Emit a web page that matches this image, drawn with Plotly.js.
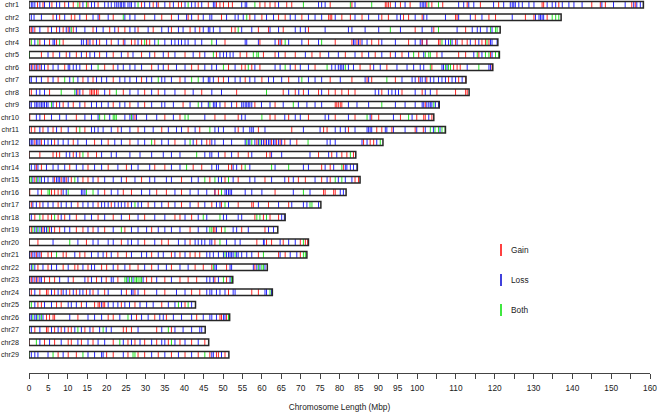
<!DOCTYPE html>
<html><head><meta charset="utf-8">
<script src="https://cdn.plot.ly/plotly-3.0.1.min.js"></script>
<style>html,body{margin:0;padding:0;background:#fff}#chart{width:660px;height:414px}</style>
</head><body><div id="chart"></div>
<script>
const chromNames = ['chr1','chr2','chr3','chr4','chr5','chr6','chr7','chr8','chr9','chr10','chr11','chr12','chr13','chr14','chr15','chr16','chr17','chr18','chr19','chr20','chr21','chr22','chr23','chr24','chr25','chr26','chr27','chr28','chr29'];
const chromLengths = [158.3,137.1,121.4,120.8,121.2,119.5,112.6,113.4,105.7,104.3,107.3,91.2,84.2,84.6,85.3,81.7,75.2,66.0,64.1,72.0,71.6,61.4,52.5,62.7,42.9,51.7,45.4,46.3,51.5];
const xTickVals = [0,5,10,15,20,25,30,35,40,45,50,55,60,65,70,75,80,85,90,95,100,105,110,115,120,125,130,135,140,145,150,155,160];
const xTickText = ['0','5','10','15','20','25','30','35','40','45','50','55','60','65','70','75','80','85','90','95','100','','110','','120','','130','','140','','150','','160'];
const legendLabels = ['Gain','Loss','Both'];

// CNV positions (Mbp), one list per chromosome
const gainPos = [
/*1*/[2.2,3.6,5.9,9.2,11.4,13.1,15.2,17.8,29.0,32.0,33.3,36.3,38.5,39.3,43.6,46.2,48.3,49.2,50.1,51.4,52.4,59.5,60.8,62.1,63.4,66.4,67.7,77.6,83.2,91.8,92.2,92.6,93.1,95.7,98.2,102.5,103.8,106.6,112.9,116.3,121.0,132.2,132.6,136.5,145.0,147.2,148.5,155.3,156.2],
/*2*/[6.2,7.9,10.9,11.8,14.8,18.2,21.7,29.8,34.2,36.7,41.0,43.6,49.6,56.9,60.0,64.3,66.0,70.3,77.2,77.6,78.0,80.6,82.8,85.8,90.9,92.6,96.5,97.8,101.3,109.9,110.3,115.0,118.5,120.2,127.9,130.1,133.5],
/*3*/[0.2,0.6,1.5,4.9,7.1,8.8,10.1,11.4,16.5,20.8,23.0,24.7,28.1,32.0,36.7,41.5,44.0,52.2,53.1,59.1,61.7,65.5,72.0,99.5,104.3,112.5],
/*4*/[0.2,2.8,5.3,7.1,8.8,15.2,16.5,18.2,21.2,24.3,26.4,27.3,29.0,30.3,31.1,50.5,59.5,64.3,65.1,72.0,78.9,83.2,84.5,85.3,88.3,90.1,97.8,101.3,102.5,105.5,105.9,109.9,111.6,112.9,115.0,116.7,117.6,118.5],
/*5*/[3.2,6.2,9.6,12.2,14.8,18.2,21.7,25.5,29.0,32.4,35.9,40.2,44.0,48.3,54.4,56.1,60.4,63.4,66.0,68.6,72.9,75.0,81.5,85.8,89.2,93.1,96.1,100.4,105.1,110.7,112.5,115.9,118.9],
/*6*/[0.0,0.2,1.0,1.9,2.8,4.9,9.2,14.8,19.5,21.7,31.6,35.9,41.9,43.6,51.4,54.8,55.7,57.4,59.5,68.6,73.7,85.3,87.9,92.2,103.8,109.4,110.3,111.1,119.3],
/*7*/[4.9,7.5,13.9,16.5,21.7,29.0,38.9,48.8,50.1,55.7,60.0,66.9,77.6,83.2,87.1,88.3,94.4,100.4,102.5,108.1,110.7,112.5],
/*8*/[0.0,0.6,5.3,12.6,13.9,15.7,16.1,16.5,16.9,17.4,17.8,20.8,24.3,29.8,33.3,40.2,44.5,53.5,65.5,68.6,70.7,74.6,77.2,78.9,80.6,82.3,84.0,90.9,96.1,101.3,105.1,109.9,112.5,112.9],
/*9*/[7.1,8.8,11.4,14.4,21.7,26.0,29.8,39.7,50.5,53.5,58.2,63.4,78.9,79.3,79.7,80.2,80.6,102.1],
/*10*/[0.2,4.0,12.2,27.3,35.0,38.9,47.9,50.5,53.9,62.1,63.4,66.9,72.0,78.9,84.0,88.3,90.1,95.7,99.9,101.7,102.1,103.8],
/*11*/[0.6,1.5,3.6,6.2,8.3,12.2,14.4,22.9,28.1,34.2,41.0,44.0,53.9,59.1,67.7,75.9,76.8,82.3,89.6,90.9,93.5,99.5,101.6],
/*12*/[1.5,3.2,6.6,11.4,16.9,20.4,26.0,32.4,37.6,43.2,45.8,46.6,58.7,60.8,62.5,63.8,64.7,65.9,69.0,86.2,87.9,88.8],
/*13*/[0.0,2.8,6.2,7.1,7.9,11.4,13.1,15.2,17.4,50.5,53.9,56.5,61.2,62.1,74.6,78.0,80.6,81.9,83.6],
/*14*/[1.9,3.2,10.5,15.2,20.4,25.1,32.4,35.0,42.3,44.5,51.4,52.2,54.8,75.4,77.6,81.0],
/*15*/[1.5,6.6,8.3,9.6,10.9,13.9,15.2,17.8,25.1,29.0,39.3,46.6,50.5,53.9,60.8,66.9,69.4,71.2,75.4,77.6,84.0,84.9],
/*16*/[0.2,3.2,5.8,6.6,7.5,8.3,19.5,24.3,26.4,32.9,35.4,39.3,47.9,48.8,63.4,75.9,76.3,78.5,78.9],
/*17*/[0.6,2.8,7.5,12.6,17.8,21.2,25.5,30.7,35.9,39.3,43.6,47.1,49.6,53.9,57.4,57.8,61.7,66.9],
/*18*/[1.5,3.6,4.9,5.8,7.5,9.2,12.2,17.8,21.7,25.9,29.8,37.6,38.9,41.9,58.2,60.4,62.1,64.3],
/*19*/[0.6,3.6,5.3,6.6,7.9,12.2,13.9,16.5,19.5,24.7,31.6,41.5,47.5,47.9,49.6,54.8,60.8],
/*20*/[0.0,2.3,14.8,23.8,29.8,34.2,35.9,41.5,47.9,58.7,61.2,62.5,65.5,69.9,71.2,71.8],
/*21*/[0.6,1.9,3.2,4.9,5.8,8.8,9.6,13.1,14.4,20.0,22.9,25.1,31.6,36.7,38.9,41.5,42.8,44.0,59.1,64.3,66.0,69.9],
/*22*/[0.0,2.3,4.9,8.8,11.8,12.6,15.2,18.7,20.0,22.9,26.0,28.1,31.6,36.7,42.8,44.9,47.1,50.9,58.2],
/*23*/[0.6,1.5,2.3,4.0,5.3,6.6,11.4,15.2,17.4,19.9,22.9,30.3,31.6,35.0,38.9,41.0,43.2,47.9,50.9],
/*24*/[0.6,2.8,4.5,4.9,6.6,8.3,10.5,12.2,14.8,16.5,19.5,25.1,27.3,29.8,35.0,41.9,44.0,51.4,57.4,59.1],
/*25*/[2.3,3.2,7.1,8.3,13.5,16.9,17.8,18.2,19.1,19.5,23.8,27.3,34.2,40.2],
/*26*/[4.5,5.3,6.2,6.6,12.6,20.4,21.7,27.7,32.4,35.4,43.2,49.2,49.6,50.9],
/*27*/[1.5,4.5,4.9,6.6,8.3,10.1,10.9,14.4,16.5,24.3,25.1,26.4,32.9,36.7],
/*28*/[0.0,4.0,6.6,10.1,10.9,13.5,16.5,21.7,25.5,27.3,29.8,32.9,35.9,38.9,41.9,45.3],
/*29*/[7.5,10.1,12.2,20.0,21.7,25.5,28.1,29.8,33.3,36.7,40.2,43.6,46.6,48.3,48.8,50.5]
];
const lossPos = [
/*1*/[0.6,1.0,1.5,2.8,4.0,5.3,7.1,7.9,10.2,13.9,16.1,16.9,19.5,20.4,21.2,22.1,22.6,23.0,23.5,23.8,24.3,24.7,25.5,26.0,26.4,27.3,29.8,31.1,32.9,35.0,37.2,40.2,41.9,42.8,44.5,47.5,47.9,54.8,55.7,56.1,64.3,74.6,75.4,76.3,84.0,94.4,96.9,100.8,101.3,101.7,102.1,110.7,112.0,113.3,114.6,119.7,122.3,124.0,124.5,124.9,125.3,126.2,127.1,128.8,130.1,133.5,134.8,135.7,137.4,139.1,140.4,142.5,147.6,150.6,153.6,155.8,156.6,157.5,158.3],
/*2*/[0.6,1.3,3.2,7.1,9.2,13.1,16.5,17.8,20.4,24.7,26.0,27.3,32.4,38.5,40.6,41.9,44.9,46.6,47.1,50.9,53.1,53.9,55.2,58.2,61.2,63.0,67.3,68.6,72.0,73.7,75.4,78.9,84.0,87.5,90.1,94.8,95.7,99.5,101.7,102.5,107.3,110.7,113.7,116.7,124.5,130.5,131.4,131.8,132.2,132.6],
/*3*/[1.0,2.8,5.8,7.9,9.6,10.5,12.2,14.4,17.4,19.1,22.1,26.0,27.3,30.7,34.2,35.9,38.5,39.7,42.8,44.9,46.2,46.6,47.5,49.2,54.8,57.4,62.1,64.3,68.6,69.9,71.2,76.3,82.3,83.2,86.6,90.1,95.7,101.3,103.8,110.3,114.2,115.5,116.3,118.0,119.3],
/*4*/[1.5,4.0,6.2,6.6,13.5,14.0,14.8,15.7,17.4,20.0,23.0,24.7,28.1,32.4,35.0,36.7,37.6,38.5,39.3,40.2,41.0,42.8,44.5,48.3,55.7,56.1,59.1,63.4,64.7,66.9,70.3,74.6,83.6,84.0,84.9,85.8,87.1,90.9,94.4,99.5,100.8,101.3,102.5,107.3,108.1,109.0,110.3,113.7,115.9,118.9,119.3,120.6],
/*5*/[4.9,7.9,10.5,13.5,15.7,16.9,20.0,23.8,26.8,31.1,34.6,37.6,42.3,45.3,49.2,50.1,50.9,51.8,52.6,64.3,71.2,77.2,79.7,84.0,87.5,90.9,94.4,97.8,101.7,106.4,114.6,116.7,119.3],
/*6*/[0.6,1.5,2.3,3.2,4.0,6.2,7.5,10.1,10.5,11.4,12.2,13.1,16.1,22.9,24.3,26.0,27.3,29.0,33.3,34.6,38.0,40.2,45.3,47.1,48.3,53.1,58.2,63.4,64.7,67.3,69.9,72.0,78.0,78.9,79.7,80.2,80.6,81.0,82.3,83.6,88.8,90.5,94.8,97.4,99.1,100.8,101.7,106.4,106.8,107.7,112.9,118.5,118.9],
/*7*/[0.2,0.6,1.9,3.2,6.2,10.5,12.6,15.2,17.4,18.7,20.0,23.4,24.7,26.0,27.7,30.3,31.6,34.2,35.0,36.7,40.2,44.9,46.2,46.6,47.5,51.4,53.1,54.4,56.9,58.2,61.7,63.0,65.1,69.5,72.0,73.7,75.4,80.2,86.6,87.5,96.1,98.7,99.5,100.8,101.3,102.1,103.4,104.3,105.5,106.4,107.3,109.0,109.9,111.6],
/*8*/[1.9,2.8,4.0,12.2,13.1,19.5,26.0,28.1,31.6,35.0,37.6,42.3,47.1,49.6,66.9,69.5,72.0,75.4,89.2,90.1,92.6,93.5,94.4,95.2,99.5,102.1,103.4],
/*9*/[0.2,0.6,1.5,1.9,2.3,2.8,3.2,3.6,4.0,4.5,4.9,6.2,7.9,10.1,13.1,16.1,17.4,18.7,20.4,23.4,24.7,28.1,31.6,34.2,35.0,37.2,41.5,44.5,46.2,47.5,47.9,48.3,49.2,52.2,54.8,55.2,55.7,56.1,56.5,56.9,57.4,59.9,62.1,65.5,69.4,71.6,73.7,75.4,82.3,84.5,87.5,94.4,96.9,99.5,101.3,101.7,102.5,103.0,103.4,103.8,104.7,105.5],
/*10*/[1.9,2.8,5.8,7.9,9.6,14.4,16.1,17.8,20.8,24.7,26.0,26.8,27.7,30.3,32.9,37.2,45.3,54.8,55.7,65.9,68.6,69.9,76.3,77.2,82.3,87.9,93.9,98.7,103.0],
/*11*/[0.0,2.8,4.9,7.1,10.1,16.1,16.9,17.8,19.1,21.2,23.8,26.0,29.8,32.0,35.9,38.0,39.3,42.8,47.9,48.8,50.1,53.1,55.2,56.9,57.4,57.8,60.8,70.7,75.0,78.9,80.2,81.5,84.0,87.1,87.5,87.9,88.3,91.8,92.2,93.9,96.9,99.9,102.1,104.2,105.9],
/*12*/[0.0,0.2,0.6,1.0,1.9,2.3,2.8,4.0,4.9,5.8,7.5,8.8,10.1,12.6,14.8,18.7,22.1,23.8,28.1,29.8,34.2,35.9,40.2,42.3,44.5,47.1,47.9,50.1,52.2,55.7,56.5,56.9,58.2,59.1,59.9,60.4,61.2,61.7,62.1,63.0,63.4,64.3,65.1,67.3,76.8,77.6,78.9,85.8,87.1,89.6],
/*13*/[9.6,10.5,12.2,18.7,21.2,22.5,26.0,28.6,31.6,34.6,36.7,38.9,45.3,46.6,47.1,48.8,52.2,57.4,62.5,65.1,72.4,77.2,79.3],
/*14*/[0.6,1.5,2.3,4.5,6.2,7.5,9.2,12.2,13.9,16.9,18.7,22.9,26.4,28.1,31.1,36.7,38.9,47.1,48.3,48.8,52.6,53.5,56.9,63.4,70.7,72.0,76.3,78.5,81.5,81.9,82.8,83.6,84.5],
/*15*/[1.0,2.3,3.2,4.0,4.9,6.2,7.1,7.5,7.9,8.8,9.2,10.1,12.6,16.5,19.5,21.7,23.8,27.3,31.1,32.4,35.4,36.7,41.9,43.6,48.8,49.6,52.6,56.9,58.2,62.5,65.9,68.1,73.7,76.8,79.7,81.5,83.2],
/*16*/[2.3,8.8,9.6,13.5,13.9,14.4,17.8,21.2,22.9,29.0,31.1,37.6,41.5,43.6,45.8,47.9,50.5,50.9,51.4,51.8,52.2,55.7,57.4,60.0,68.1,72.4,80.2,81.0],
/*17*/[0.0,1.0,1.9,3.6,4.9,6.2,8.3,9.6,10.9,13.9,15.2,16.5,18.7,19.5,20.4,22.1,23.0,23.8,24.7,26.4,28.1,29.0,32.4,34.2,37.6,41.5,45.3,48.3,49.2,51.4,59.1,64.3,67.7,70.7,71.6,74.6],
/*18*/[0.6,8.3,10.5,14.4,16.1,19.5,23.8,28.1,32.4,35.0,40.2,43.6,45.8,50.1,50.9,53.9,54.8,65.1,65.8],
/*19*/[0.0,1.5,2.3,3.2,4.0,4.5,5.8,9.2,10.5,15.2,17.8,21.7,26.4,28.1,30.3,33.3,35.0,36.7,38.9,43.6,45.8,48.3,52.6,53.5,56.5,61.7,63.0],
/*20*/[6.2,12.6,16.5,17.8,20.4,21.7,25.5,26.4,28.1,32.4,38.5,40.2,42.8,43.6,44.5,45.3,46.6,47.1,50.9,53.1,54.4,60.4,60.6,64.7,66.9,68.6],
/*21*/[0.0,0.2,1.0,1.5,2.3,2.8,11.8,16.1,17.8,19.1,21.2,26.4,29.0,30.3,33.3,34.6,37.6,40.2,45.8,46.6,47.5,48.8,50.1,50.9,51.4,51.8,52.2,52.6,53.5,53.9,54.8,56.1,57.4,64.7,67.3,69.0],
/*22*/[0.6,1.5,3.6,5.8,7.1,10.1,13.9,16.1,16.9,21.7,24.7,29.8,33.3,35.4,38.9,41.0,47.9,48.3,51.8,52.2,57.8,58.7,59.5,60.8],
/*23*/[0.0,0.2,1.0,1.9,2.8,3.2,7.9,10.1,14.4,16.1,18.7,21.2,21.7,25.5,26.8,29.4,32.9,36.7,45.8,46.6,47.5,48.8,51.8],
/*24*/[0.0,1.5,5.8,7.5,8.8,9.6,11.4,13.1,13.9,15.7,17.8,20.4,23.8,26.4,26.8,28.1,32.9,38.0,40.2,45.8,46.6,47.1,48.3,49.2,50.5,52.6,53.1,60.8,61.2,62.5],
/*25*/[1.5,4.0,5.8,10.1,10.9,12.2,14.8,18.7,20.4,21.7,22.9,24.7,25.9,28.6,30.3,32.0,35.9,37.6,39.3,41.9],
/*26*/[0.0,0.2,0.6,1.5,1.9,2.8,3.6,10.5,15.2,16.9,18.7,23.4,26.4,29.0,30.7,33.7,34.6,37.2,39.3,41.9,44.9,46.6,47.1,48.3,50.1,50.5],
/*27*/[0.6,2.8,5.8,7.5,9.2,11.8,13.5,15.7,18.2,19.9,21.2,28.1,34.2,37.6,39.7,41.9,44.0,44.5],
/*28*/[2.8,5.3,8.3,12.6,15.2,17.8,19.5,24.3,26.4,28.6,31.6,34.2,35.0,37.6,40.2,43.6],
/*29*/[0.6,1.5,2.3,4.9,8.8,15.2,16.9,18.7,19.1,24.3,31.6,35.0,38.5,41.9,47.1,47.5,49.6]
];
const bothPos = [
/*1*/[12.6,14.8,28.1,41.0,58.2,70.7,82.8,88.3,103.0,105.5],
/*2*/[24.3,56.1,134.8,135.7,136.5],
/*3*/[10.9,53.9,93.1,105.5,118.9,120.2,120.6],
/*4*/[0.6,2.3,7.9,29.8,33.3,47.1,66.0,75.4,106.4,108.6,118.0],
/*5*/[0.1,47.5,57.8,58.7,59.1,99.1,102.1,103.0,103.4,115.5,117.6,118.5,120.2,121.0],
/*6*/[17.8,50.1,56.5,66.0,76.8,81.5,103.4,107.3,108.1,108.6,115.9],
/*7*/[9.2,11.4,33.3,41.9,43.6,70.3,92.2],
/*8*/[8.3,11.8,22.5,61.2],
/*9*/[5.8,43.6,46.6,68.1,90.9,104.3],
/*10*/[18.2,19.5,21.7,22.1,22.5,26.4,40.2,41.0,60.0,87.1,97.8],
/*11*/[13.1,46.6,103.4,104.6,105.5,106.4,107.2],
/*12*/[31.6,41.5,56.1,57.4,59.5,71.9,90.5],
/*13*/[13.9,43.2,82.8],
/*14*/[0.0,40.6,55.7,62.5,66.9,80.6],
/*15*/[0.0,0.2,0.6,1.9,2.8,11.8,45.3,47.9,51.4,78.9,80.6],
/*16*/[4.9,5.3,10.1,14.8,16.5,49.6,70.7],
/*17*/[27.3,50.5,72.4,72.9],
/*18*/[0.0,2.8,6.6,44.9,49.2,58.7,59.5,61.2],
/*19*/[1.0,1.9,2.8,4.9,23.8,46.6,47.1,50.5],
/*20*/[10.5,49.2,70.7],
/*21*/[7.1,50.5,53.1,60.4,70.7,71.2],
/*22*/[1.0,47.5,59.1,60.0,60.4],
/*23*/[24.7,25.1,25.9,26.4,27.3,27.7,28.1,28.6,29.0,50.1,52.2],
/*24*/[62.1],
/*25*/[0.0,0.6,38.5,41.0],
/*26*/[1.0,2.3,3.2,25.5,51.4],
/*27*/[0.0,12.6,19.1,35.9],
/*28*/[1.9,23.4,36.7],
/*29*/[0.0,6.2,13.9,26.8,27.3,45.3]
];

const colGain = '#ff0000', colLoss = '#0000ff', colBoth = '#00e000';
const HALF = 0.26;

function markTrace(posLists, color) {
  const x = [], y = [];
  posLists.forEach((list, i) => {
    list.forEach(p => { x.push(p, p, null); y.push(i - HALF, i + HALF, null); });
  });
  return {type:'scatter', mode:'lines', x:x, y:y, opacity:0.85, line:{color:color, width:1}, hoverinfo:'skip', showlegend:false};
}

const traces = [markTrace(lossPos, colLoss), markTrace(gainPos, colGain), markTrace(bothPos, colBoth)];

const shapes = chromLengths.map((len, i) => ({
  type:'rect', xref:'x', yref:'y', x0:0, x1:len, y0:i - HALF, y1:i + HALF,
  line:{color:'#262626', width:1.5}, fillcolor:'rgba(0,0,0,0)', layer:'above'
}));

// legend (pixel positions converted to paper fractions of the 621x373 plot area)
const plotW = 621, plotH = 373, left = 29;
const legCols = [colGain, '#0000d0', colBoth];
const legY = [250, 280, 310];
legendLabels.forEach((lab, k) => {
  shapes.push({type:'line', xref:'paper', yref:'paper',
    x0:(501-left)/plotW, x1:(501-left)/plotW,
    y0:1-(legY[k]-6)/plotH, y1:1-(legY[k]+6)/plotH,
    line:{color:legCols[k], width:1.5}});
});
const annotations = legendLabels.map((lab, k) => ({
  xref:'paper', yref:'paper', x:(509-left)/plotW, y:1-legY[k]/plotH,
  xanchor:'left', yanchor:'middle', text:lab, showarrow:false,
  font:{size:8.3, color:'#222'}
}));

const layout = {
  width:660, height:414,
  margin:{l:29, r:10, t:0, b:41, pad:0},
  paper_bgcolor:'#ffffff', plot_bgcolor:'#ffffff',
  showlegend:false,
  font:{family:'"Liberation Sans", Arial, Helvetica, sans-serif', color:'#222'},
  xaxis:{range:[0,160], tickmode:'array', tickvals:xTickVals, ticktext:xTickText,
    ticks:'outside', ticklen:5, tickwidth:1, tickcolor:'#444',
    showline:true, linecolor:'#444', linewidth:1, showgrid:false, zeroline:false,
    tickfont:{size:8.3, color:'#222'}, tickangle:0, ticklabelstandoff:2,
    title:{text:'Chromosome Length (Mbp)', font:{size:8.3, color:'#222'}, standoff:12}},
  yaxis:{range:[29.464,-0.376], tickmode:'array', tickvals:chromNames.map((_, i) => i), ticktext:chromNames,
    showgrid:false, zeroline:false, showline:false, ticks:'',
    tickfont:{size:7.2, color:'#222'}, ticklabelstandoff:9},
  shapes:shapes, annotations:annotations
};

Plotly.newPlot('chart', traces, layout, {displayModeBar:false, staticPlot:true});
</script></body></html>
